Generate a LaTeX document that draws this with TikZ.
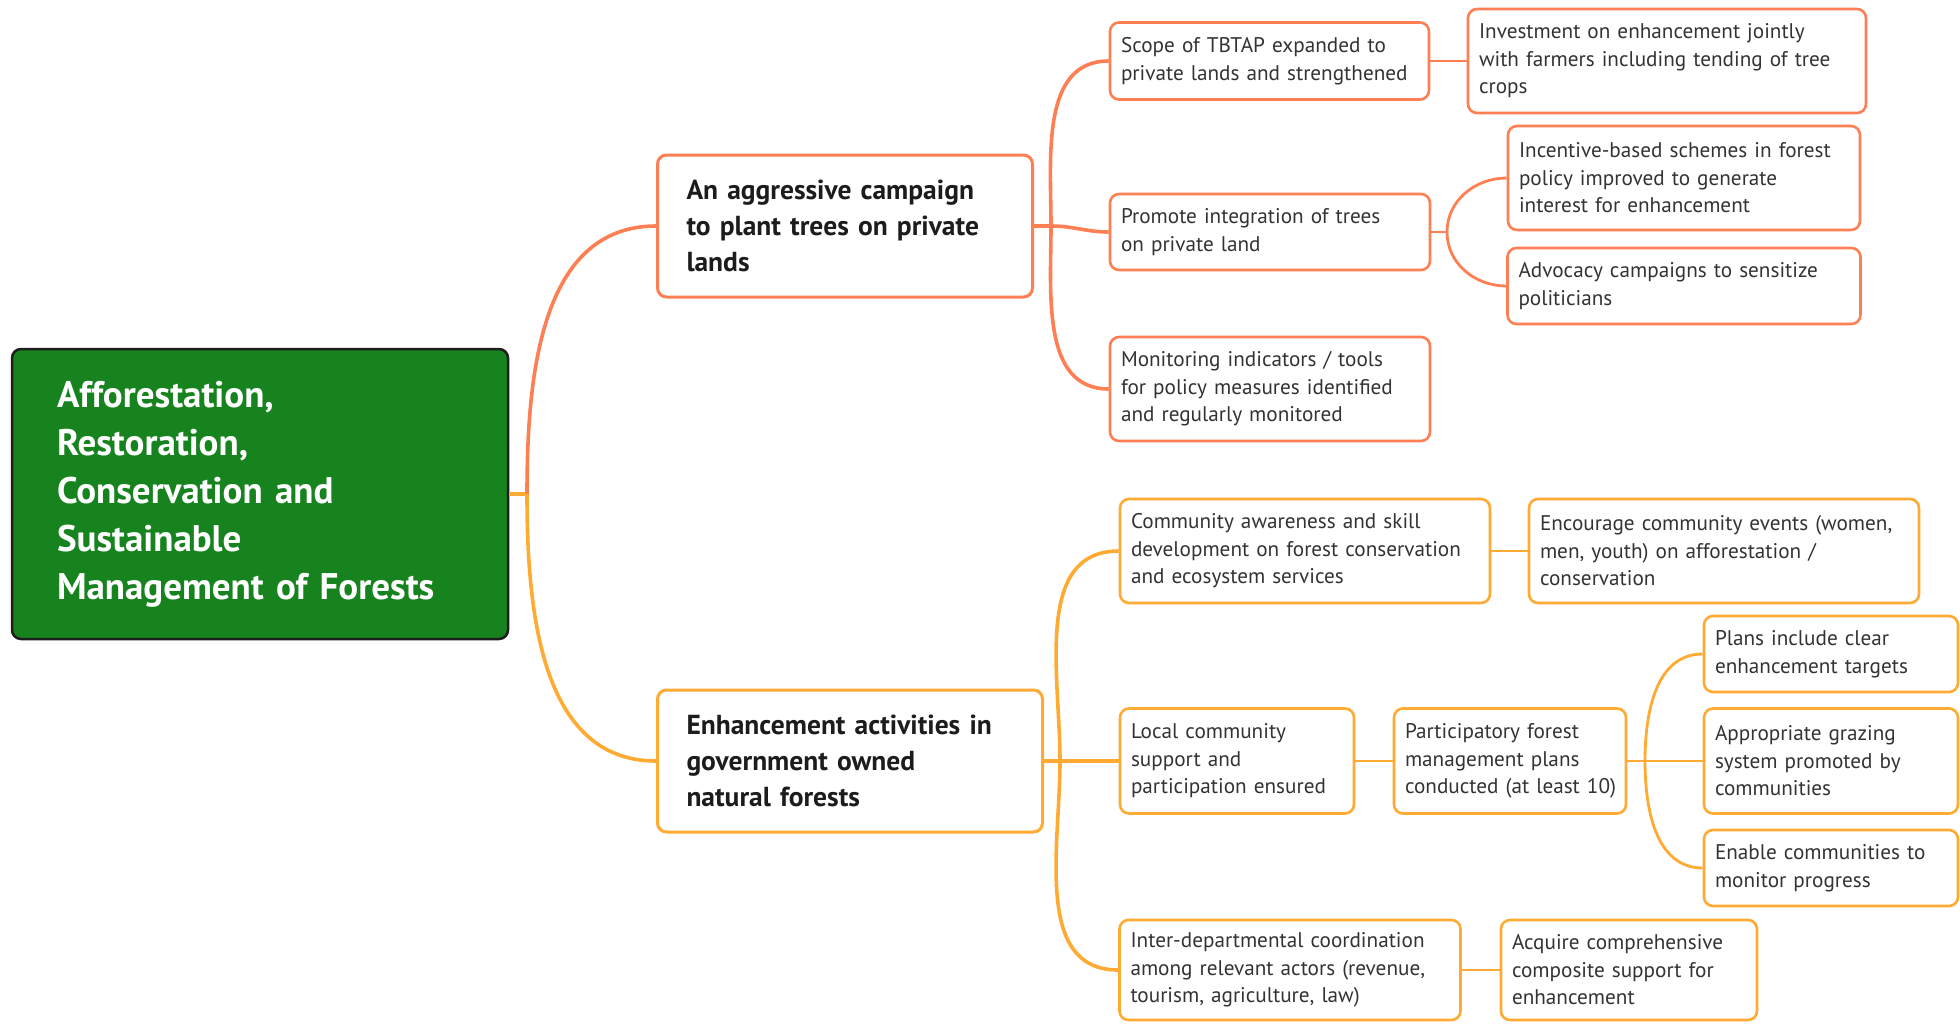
\documentclass[tikz,border=0pt]{standalone}
\usepackage{fontspec}
\setmainfont{PT Sans}
\definecolor{coral}{HTML}{FF7F55}
\definecolor{amber}{HTML}{FFAA33}
\definecolor{rootgreen}{HTML}{17831F}
\definecolor{rootedge}{HTML}{1E1E1E}
\definecolor{ink}{HTML}{1C1C1C}
\definecolor{leafink}{HTML}{333333}
\begin{document}
\begin{tikzpicture}[x=1pt,y=-1pt,
  base/.style={rectangle, rounded corners=9pt, align=left, inner ysep=0pt, fill=white},
  rootbox/.style={base, fill=rootgreen, draw=rootedge, line width=2.5pt, text=white,
    inner xsep=45pt, font=\bfseries\fontsize{37}{48}\selectfont},
  mainA/.style={base, draw=coral, line width=3pt, text=ink, inner xsep=29pt,
    font=\bfseries\fontsize{27.5}{36}\selectfont},
  mainB/.style={mainA, draw=amber},
  leafA/.style={base, draw=coral, line width=2.6pt, text=leafink, inner xsep=11pt,
    font=\fontsize{21.2}{27.5}\selectfont},
  leafB/.style={leafA, draw=amber},
  trunkA/.style={draw=coral, line width=3.6pt},
  trunkB/.style={draw=amber, line width=3.6pt},
  twigA/.style={draw=coral, line width=2.8pt},
  twigB/.style={draw=amber, line width=2.8pt}]
\useasboundingbox (0,0) rectangle (1960,1023);

% central topic
\node[rootbox, text width=406pt, minimum height=290pt] (root) at (260,494)
  {Afforestation,\\Restoration,\\Conservation and\\Sustainable\\Management of Forests};

% main branches
\node[mainA, text width=317pt, minimum height=142pt] (ma) at (845,226)
  {An aggressive campaign\\to plant trees on private\\lands};
\node[mainB, text width=327pt, minimum height=142pt] (mb) at (850,761)
  {Enhancement activities in\\government owned\\natural forests};

% private lands branch
\node[leafA, text width=297pt, minimum height=77pt] (a1) at (1269.5,61)
  {Scope of TBTAP expanded to\\private lands and strengthened};
\node[leafA, text width=376pt, minimum height=104pt] (a1a) at (1667,61)
  {Investment on enhancement jointly\\with farmers including tending of tree\\crops};
\node[leafA, text width=298pt, minimum height=76pt] (a2) at (1270,232)
  {Promote integration of trees\\on private land};
\node[leafA, text width=330pt, minimum height=104pt] (a2a) at (1684,178)
  {Incentive-based schemes in forest\\policy improved to generate\\interest for enhancement};
\node[leafA, text width=331pt, minimum height=76pt] (a2b) at (1684,286)
  {Advocacy campaigns to sensitize\\politicians};
\node[leafA, text width=298pt, minimum height=104pt] (a3) at (1270,389)
  {Monitoring indicators / tools\\for policy measures identified\\and regularly monitored};

% natural forests branch
\node[leafB, text width=348pt, minimum height=104pt] (b1) at (1305,551)
  {Community awareness and skill\\development on forest conservation\\and ecosystem services};
\node[leafB, text width=368pt, minimum height=104pt] (b1a) at (1724,551)
  {Encourage community events (women,\\men, youth) on afforestation /\\conservation};
\node[leafB, text width=212pt, minimum height=105pt] (b2) at (1237,761)
  {Local community\\support and\\participation ensured};
\node[leafB, text width=210pt, minimum height=105pt] (b2a) at (1510,761)
  {Participatory forest\\management plans\\\mbox{conducted (at least 10)}};
\node[leafB, text width=232pt, minimum height=76pt] (b2a1) at (1831,654)
  {Plans include clear\\enhancement targets};
\node[leafB, text width=232pt, minimum height=105pt] (b2a2) at (1831,761)
  {Appropriate grazing\\system promoted by\\communities};
\node[leafB, text width=232pt, minimum height=76pt] (b2a3) at (1831,868)
  {Enable communities to\\monitor progress};
\node[leafB, text width=319pt, minimum height=100pt] (b3) at (1290,970)
  {Inter-departmental coordination\\among relevant actors (revenue,\\tourism, agriculture, law)};
\node[leafB, text width=234pt, minimum height=100pt] (b3a) at (1629,970)
  {Acquire comprehensive\\composite support for\\enhancement};

% branch points
\coordinate (jr) at (527,494);
\coordinate (ja) at (1051,226);
\coordinate (ja2) at (1447,232);
\coordinate (jb) at (1060,761);
\coordinate (jb2) at (1645,761);

% connectors from the central topic
\draw[trunkB] (root.east) -- (jr);
\draw[trunkA] (jr) to[out=90,in=180] (ma.west);
\draw[trunkB] (jr) to[out=-90,in=180] (mb.west);

% connectors of the private lands branch
\draw[trunkA] (ma.east) -- (ja);
\draw[trunkA] (ja) to[out=90,in=180] (a1.west);
\draw[trunkA] (ja) to[out=0,in=180] (a2.west);
\draw[trunkA] (ja) to[out=-90,in=180] (a3.west);
\draw[twigA] (a1.east) -- (a1a.west);
\draw[twigA] (a2.east) -- (ja2);
\draw[twigA] (ja2) to[out=90,in=180] (a2a.west);
\draw[twigA] (ja2) to[out=-90,in=180] (a2b.west);

% connectors of the natural forests branch
\draw[trunkB] (mb.east) -- (jb);
\draw[trunkB] (jb) to[out=90,in=180] (b1.west);
\draw[trunkB] (jb) -- (b2.west);
\draw[trunkB] (jb) to[out=-90,in=180] (b3.west);
\draw[twigB] (b1.east) -- (b1a.west);
\draw[twigB] (b2.east) -- (b2a.west);
\draw[twigB] (b3.east) -- (b3a.west);
\draw[twigB] (b2a.east) -- (jb2);
\draw[twigB] (jb2) to[out=90,in=180] (b2a1.west);
\draw[twigB] (jb2) -- (b2a2.west);
\draw[twigB] (jb2) to[out=-90,in=180] (b2a3.west);
\end{tikzpicture}
\end{document}
